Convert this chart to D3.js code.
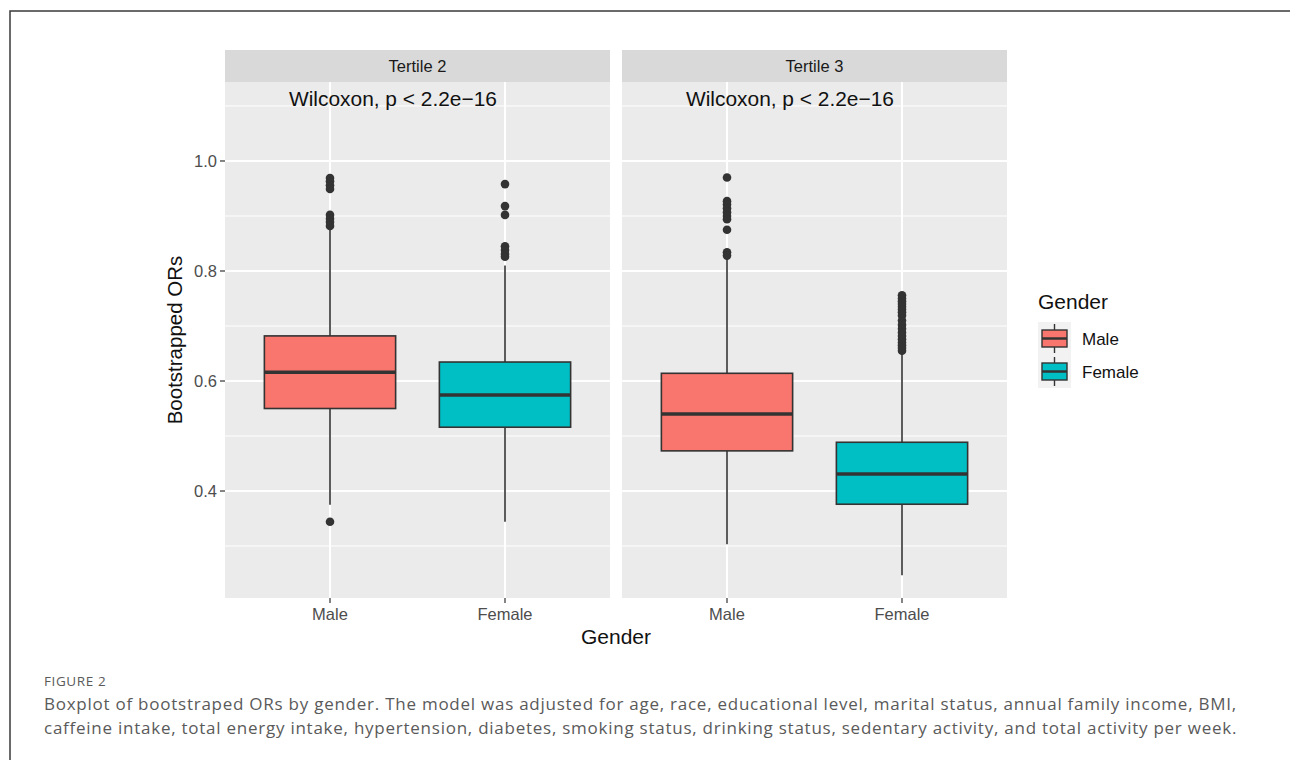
<!DOCTYPE html>
<html>
<head>
<meta charset="utf-8">
<script src="https://cdn.jsdelivr.net/npm/d3@7"></script>
<style>
  body { margin: 0; background: #fff; }
  svg { display: block; }
</style>
</head>
<body>
<div id="chart"></div>
<script>

// Data: one entry per facet, [Male, Female] inside
var tertiles = ["Tertile 2", "Tertile 3"];
var genders = ["Male", "Female"];
var genderColors = ["#F8766D", "#00BFC4"];

var whiskerLow  = [[0.375, 0.344], [0.303, 0.247]];
var q1          = [[0.550, 0.516], [0.473, 0.376]];
var median      = [[0.616, 0.5745], [0.540, 0.431]];
var q3          = [[0.682, 0.6345], [0.614, 0.4886]];
var whiskerHigh = [[0.876, 0.810], [0.822, 0.650]];

var outliers = [
    [
        [0.969, 0.963, 0.956, 0.949, 0.902, 0.895, 0.889, 0.882, 0.344],
        [0.958, 0.918, 0.902, 0.845, 0.838, 0.831, 0.826]
    ],
    [
        [0.970, 0.927, 0.921, 0.914, 0.907, 0.900, 0.894, 0.875, 0.834, 0.828],
        [0.756, 0.750, 0.745, 0.740, 0.735, 0.730, 0.725, 0.719, 0.710, 0.702,
         0.695, 0.688, 0.682, 0.676, 0.670, 0.665, 0.660, 0.655]
    ]
];

var yTicks = [0.4, 0.6, 0.8, 1.0];
var yMinor = [0.3, 0.5, 0.7, 0.9, 1.1];
var testLabel = "Wilcoxon, p < 2.2e\u221216";

var captionHead = "FIGURE 2";
var captionLines = [
    "Boxplot of bootstraped ORs by gender. The model was adjusted for age, race, educational level, marital status, annual family income, BMI,",
    "caffeine intake, total energy intake, hypertension, diabetes, smoking status, drinking status, sedentary activity, and total activity per week."
];


var width = 1290, height = 760;
var panelTop = 82, panelBottom = 598, stripTop = 50;
var fontMain = "'Liberation Sans', Arial, sans-serif";

var svg = d3.select("#chart").append("svg")
    .attr("width", width)
    .attr("height", height);

// Outer frame (top and left rules)
svg.append("path")
    .attr("d", "M10,760 V11 H1290")
    .attr("fill", "none")
    .attr("stroke", "#3a3a3a")
    .attr("stroke-width", 1.5);

// Scales
var facet = d3.scaleBand()
    .domain(tertiles)
    .range([225, 1007])
    .paddingInner(12 / 397);

var x = d3.scaleLinear()
    .domain([0.4, 2.6])
    .range([0, facet.bandwidth()]);

var y = d3.scaleLinear()
    .domain([0.2055, 1.1436])
    .range([panelBottom, panelTop]);

var boxHalf = 0.375;

tertiles.forEach(function(t, ti) {
    var g = svg.append("g")
        .attr("transform", "translate(" + facet(t) + ",0)");

    // Strip
    g.append("rect")
        .attr("x", 0).attr("y", stripTop)
        .attr("width", facet.bandwidth())
        .attr("height", panelTop - stripTop)
        .attr("fill", "#d9d9d9");

    g.append("text")
        .attr("x", facet.bandwidth() / 2)
        .attr("y", (stripTop + panelTop) / 2 + 6)
        .attr("text-anchor", "middle")
        .style("font-family", fontMain)
        .style("font-size", "16.5px")
        .style("fill", "#1a1a1a")
        .text(t);

    // Panel
    g.append("rect")
        .attr("x", 0).attr("y", panelTop)
        .attr("width", facet.bandwidth())
        .attr("height", panelBottom - panelTop)
        .attr("fill", "#ebebeb");

    g.selectAll(".minor")
        .data(yMinor)
        .enter().append("line")
        .attr("x1", 0).attr("x2", facet.bandwidth())
        .attr("y1", function(d) { return y(d); })
        .attr("y2", function(d) { return y(d); })
        .attr("stroke", "#fff")
        .attr("stroke-width", 1);

    g.selectAll(".major")
        .data(yTicks)
        .enter().append("line")
        .attr("x1", 0).attr("x2", facet.bandwidth())
        .attr("y1", function(d) { return y(d); })
        .attr("y2", function(d) { return y(d); })
        .attr("stroke", "#fff")
        .attr("stroke-width", 2);

    g.selectAll(".vgrid")
        .data(genders)
        .enter().append("line")
        .attr("x1", function(d, i) { return x(i + 1); })
        .attr("x2", function(d, i) { return x(i + 1); })
        .attr("y1", panelTop).attr("y2", panelBottom)
        .attr("stroke", "#fff")
        .attr("stroke-width", 2);

    // Boxes
    genders.forEach(function(gd, gi) {
        var cx = x(gi + 1);
        var bx0 = x(gi + 1 - boxHalf), bx1 = x(gi + 1 + boxHalf);

        g.append("line")
            .attr("x1", cx).attr("x2", cx)
            .attr("y1", y(q3[ti][gi])).attr("y2", y(whiskerHigh[ti][gi]))
            .attr("stroke", "#333").attr("stroke-width", 1.6);
        g.append("line")
            .attr("x1", cx).attr("x2", cx)
            .attr("y1", y(q1[ti][gi])).attr("y2", y(whiskerLow[ti][gi]))
            .attr("stroke", "#333").attr("stroke-width", 1.6);

        g.append("rect")
            .attr("x", bx0)
            .attr("y", y(q3[ti][gi]))
            .attr("width", bx1 - bx0)
            .attr("height", y(q1[ti][gi]) - y(q3[ti][gi]))
            .attr("fill", genderColors[gi])
            .attr("stroke", "#333")
            .attr("stroke-width", 1.6);

        g.append("line")
            .attr("x1", bx0).attr("x2", bx1)
            .attr("y1", y(median[ti][gi])).attr("y2", y(median[ti][gi]))
            .attr("stroke", "#333").attr("stroke-width", 3.5);

        g.selectAll(".out" + gi)
            .data(outliers[ti][gi])
            .enter().append("circle")
            .attr("cx", cx)
            .attr("cy", function(d) { return y(d); })
            .attr("r", 4.3)
            .attr("fill", "#333");
    });

    // Wilcoxon label
    g.append("text")
        .attr("x", 64)
        .attr("y", 106)
        .style("font-family", fontMain)
        .style("font-size", "20.9px")
        .style("fill", "#111")
        .text(testLabel);

    // X ticks
    genders.forEach(function(gd, gi) {
        g.append("line")
            .attr("x1", x(gi + 1)).attr("x2", x(gi + 1))
            .attr("y1", panelBottom).attr("y2", panelBottom + 5)
            .attr("stroke", "#333").attr("stroke-width", 1.2);
        g.append("text")
            .attr("x", x(gi + 1))
            .attr("y", 620)
            .attr("text-anchor", "middle")
            .style("font-family", fontMain)
            .style("font-size", "16.5px")
            .style("fill", "#4d4d4d")
            .text(gd);
    });
});

// Y axis
var yAxis = svg.append("g");
yTicks.forEach(function(v) {
    yAxis.append("line")
        .attr("x1", 220).attr("x2", 225)
        .attr("y1", y(v)).attr("y2", y(v))
        .attr("stroke", "#333").attr("stroke-width", 1.2);
    yAxis.append("text")
        .attr("x", 217)
        .attr("y", y(v) + 6)
        .attr("text-anchor", "end")
        .style("font-family", fontMain)
        .style("font-size", "16.5px")
        .style("fill", "#4d4d4d")
        .text(d3.format(".1f")(v));
});

svg.append("text")
    .attr("transform", "translate(182," + (panelTop + panelBottom) / 2 + ") rotate(-90)")
    .attr("text-anchor", "middle")
    .style("font-family", fontMain)
    .style("font-size", "20.5px")
    .style("fill", "#111")
    .text("Bootstrapped ORs");

svg.append("text")
    .attr("x", (facet.range()[0] + facet.range()[1]) / 2)
    .attr("y", 644)
    .attr("text-anchor", "middle")
    .style("font-family", fontMain)
    .style("font-size", "21px")
    .style("fill", "#111")
    .text("Gender");

// Legend
var legend = svg.append("g").attr("transform", "translate(1038,0)");
legend.append("text")
    .attr("x", 0).attr("y", 309)
    .style("font-family", fontMain)
    .style("font-size", "21px")
    .style("fill", "#111")
    .text("Gender");

genders.forEach(function(gd, gi) {
    var ky = 322 + gi * 33;
    legend.append("rect")
        .attr("x", 0).attr("y", ky)
        .attr("width", 33).attr("height", 33)
        .attr("fill", "#f2f2f2");
    legend.append("line")
        .attr("x1", 16.5).attr("x2", 16.5)
        .attr("y1", ky + 2).attr("y2", ky + 31)
        .attr("stroke", "#333").attr("stroke-width", 1.4);
    legend.append("rect")
        .attr("x", 4).attr("y", ky + 8)
        .attr("width", 25).attr("height", 17)
        .attr("fill", genderColors[gi])
        .attr("stroke", "#333").attr("stroke-width", 1.4);
    legend.append("line")
        .attr("x1", 4).attr("x2", 29)
        .attr("y1", ky + 16.5).attr("y2", ky + 16.5)
        .attr("stroke", "#333").attr("stroke-width", 2.5);
    legend.append("text")
        .attr("x", 44).attr("y", ky + 23)
        .style("font-family", fontMain)
        .style("font-size", "17px")
        .style("fill", "#111")
        .text(gd);
});

// Caption
svg.append("text")
    .attr("x", 44).attr("y", 686)
    .style("font-family", "'Open Sans', sans-serif")
    .style("font-size", "13.5px")
    .style("fill", "#5a5a5a")
    .style("letter-spacing", "0.6px")
    .text(captionHead);

svg.selectAll(".caption")
    .data(captionLines)
    .enter().append("text")
    .attr("class", "caption")
    .attr("x", 44)
    .attr("y", function(d, i) { return 710 + i * 24; })
    .style("font-family", "'Open Sans', sans-serif")
    .style("font-size", "17px")
    .style("fill", "#5a5a5a")
    .style("letter-spacing", "0.75px")
    .text(function(d) { return d; });

</script>
</body>
</html>
